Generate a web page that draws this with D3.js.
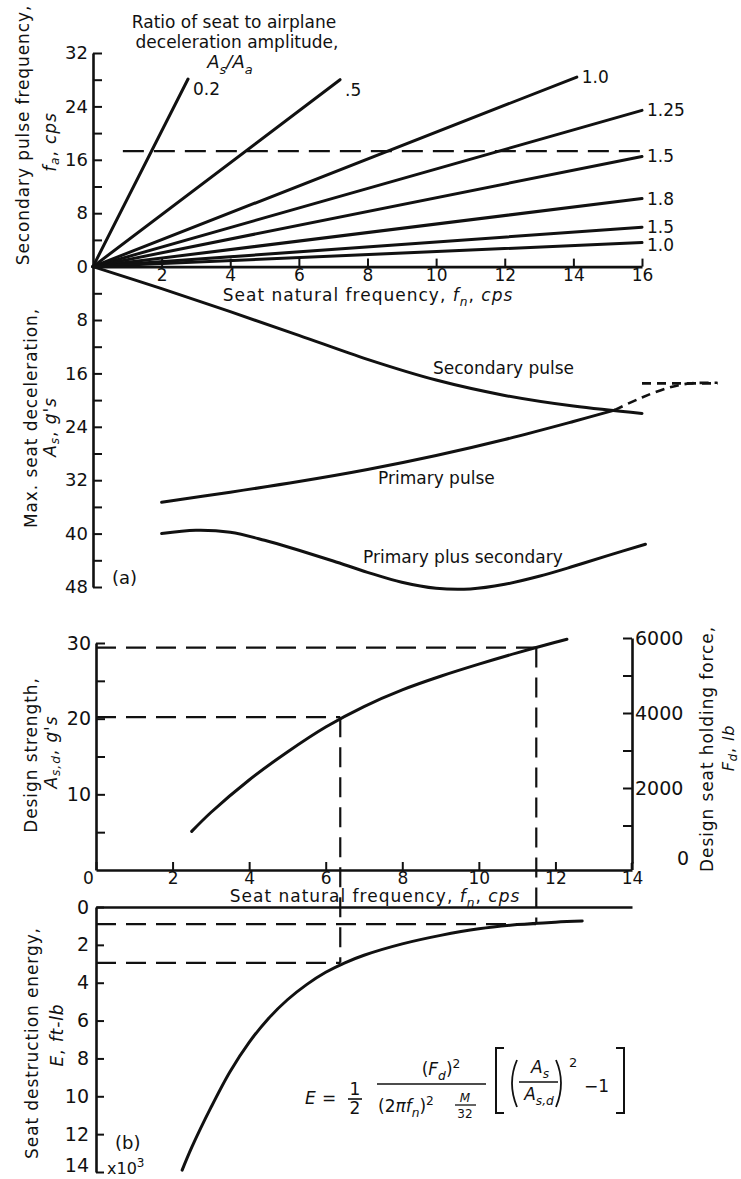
<!DOCTYPE html>
<html>
<head>
<meta charset="utf-8">
<script src="https://cdn.jsdelivr.net/npm/d3@7"></script>
<style>
  body { margin: 0; background: #fff; }
  svg { display: block; font-family: "DejaVu Sans", "Liberation Sans", sans-serif; }
</style>
</head>
<body>
<svg id="chart" width="741" height="1179"></svg>
<script>
// ---------- Panel (a), upper half: secondary pulse frequency vs seat natural frequency ----------
const ratioLabels = ["0.2", ".5", "1.0", "1.25", "1.5", "1.8", "1.5", "1.0"];
const ratioEndFn  = [2.77, 7.2, 14.1, 16, 16, 16, 16, 16];
const ratioEndFa  = [28.1, 28.0, 28.4, 23.4, 16.5, 10.2, 5.9, 3.6];
const faLimit = 17.3;              // horizontal dashed level, cps
const faLimitRange = [0.87, 16];   // fn extent of that dashed line

// ---------- Panel (a), lower half: max seat deceleration vs seat natural frequency ----------
const secFn  = [0, 2, 4, 6, 8, 10, 12, 14, 16];
const secAs  = [0, 3.3, 6.75, 10.3, 13.9, 17.0, 19.3, 20.9, 22.0];
const primFn = [2, 4, 6, 8, 10, 12, 14, 15.2];
const primAs = [35.3, 33.8, 32.2, 30.4, 28.3, 25.9, 23.2, 21.5];
const primExtFn = [15.2, 16, 16.8, 17.4, 18.2];
const primExtAs = [21.5, 19.6, 18.1, 17.5, 17.4];
const plateauFn = [16, 18.2];
const plateauAs = [17.5, 17.5];
const ppsFn = [2, 3, 4, 5, 6, 7, 8, 9, 10, 11, 12, 13, 14, 15, 16.1];
const ppsAs = [40.0, 39.5, 39.8, 41.0, 42.5, 44.1, 45.8, 47.3, 48.2, 48.3, 47.6, 46.4, 44.9, 43.3, 41.6];

// ---------- Panel (b), upper: design strength / holding force ----------
const dsFn = [2.5, 3, 4, 5, 6, 7, 8, 9, 10, 11, 12, 12.3];
const dsAs = [5.1, 7.6, 11.9, 15.6, 18.9, 21.6, 23.8, 25.6, 27.2, 28.7, 30.1, 30.5];

// ---------- Panel (b), lower: seat destruction energy (thousands of ft-lb) ----------
const eFn = [2.25, 2.5, 3, 3.5, 4, 4.5, 5, 5.5, 6, 6.5, 7, 8, 9, 10, 11, 12, 12.7];
const eVal = [13.9, 12.7, 10.6, 8.7, 7.15, 5.9, 4.9, 4.1, 3.45, 2.95, 2.55, 1.95, 1.5, 1.15, 0.93, 0.8, 0.74];

// Design examples read across both lower plots
const exFn  = [6.38, 11.5];
const exAsd = [20.2, 29.4];
const exE   = [2.95, 0.9];

// Tick sets
const ticksA_y  = d3.range(-48, 33, 4);
const ticksA_x  = d3.range(2, 17, 2);
const ticksB_y  = d3.range(5, 31, 5);
const ticksB_x  = d3.range(0, 15, 2);
const ticksF    = d3.range(1000, 6001, 1000);
const ticksE    = d3.range(0, 15, 2);

const ink = "#111";
const svg = d3.select("#chart");

// Scales
const xA = d3.scaleLinear().domain([0, 16]).range([93, 642]);
const yA = d3.scaleLinear().domain([-48, 32]).range([587, 53]);   // fa up, As down (negative)
const xB = d3.scaleLinear().domain([0, 14]).range([96, 632]);
const yB = d3.scaleLinear().domain([0, 30]).range([870, 643]);
const yF = d3.scaleLinear().domain([0, 6000]).range([863, 638]);
const yE = d3.scaleLinear().domain([0, 14]).range([907, 1172]);

const smooth = d3.curveCatmullRom.alpha(0.5);

function styleAxis(g, fs) {
  g.attr("font-family", null).attr("font-size", fs);
  g.select(".domain").attr("stroke", ink).attr("stroke-width", 2.6);
  g.selectAll(".tick line").attr("stroke", ink).attr("stroke-width", 2);
  g.selectAll(".tick text").attr("fill", ink);
}

// rich text helper: segments with italic / subscript / superscript
function rich(parent, segs, size) {
  const t = parent.append("text").attr("font-size", size).attr("fill", ink);
  let shift = 0;
  segs.forEach(s => {
    const target = s.sub ? size * 0.32 : s.sup ? -size * 0.42 : 0;
    const ts = t.append("tspan").text(s.t).attr("dy", target - shift);
    shift = target;
    if (s.it) ts.attr("font-style", "italic");
    if (s.sub || s.sup) ts.attr("font-size", size * 0.72);
  });
  return t;
}
function vtitle(segs, x, y, size) {
  rich(svg, segs, size)
    .attr("text-anchor", "middle")
    .attr("dominant-baseline", "central")
    .attr("letter-spacing", 0.9)
    .attr("transform", `translate(${x},${y}) rotate(-90)`);
}

// ================= Panel (a) =================
const gA = svg.append("g");

svg.append("g").attr("transform", `translate(${xA(0)},0)`)
  .call(d3.axisLeft(yA).tickValues(ticksA_y).tickSize(-9).tickSizeOuter(0).tickPadding(5)
    .tickFormat(d => d % 8 === 0 ? Math.abs(d) : ""))
  .call(g => styleAxis(g, 18));

svg.append("g").attr("transform", `translate(0,${yA(0)})`)
  .call(d3.axisBottom(xA).tickValues(ticksA_x).tickSize(-8).tickSizeOuter(0).tickPadding(2))
  .call(g => styleAxis(g, 17));

// ratio lines from the origin, labelled at their ends (labels kept at least 18px apart)
let prevLabelY = -Infinity;
ratioLabels.forEach((lab, i) => {
  gA.append("line")
    .attr("x1", xA(0)).attr("y1", yA(0))
    .attr("x2", xA(ratioEndFn[i])).attr("y2", yA(ratioEndFa[i]))
    .attr("stroke", ink).attr("stroke-width", 3).attr("stroke-linecap", "round");
  let ly = yA(ratioEndFa[i]) + (ratioEndFn[i] < 10 ? 10 : 0);
  if (ratioEndFn[i] >= 10) {
    if (ly - prevLabelY < 18) ly = prevLabelY + 18;
    prevLabelY = ly;
  }
  gA.append("text")
    .attr("x", xA(ratioEndFn[i]) + 5)
    .attr("y", ly)
    .attr("dominant-baseline", "central")
    .attr("font-size", 17).attr("fill", ink)
    .text(lab);
});

gA.append("line")
  .attr("x1", xA(faLimitRange[0])).attr("x2", xA(faLimitRange[1]))
  .attr("y1", yA(faLimit)).attr("y2", yA(faLimit))
  .attr("stroke", ink).attr("stroke-width", 2.2).attr("stroke-dasharray", "21,10");

// deceleration curves (plotted downward)
const lineA = (fx, fy) => d3.line().x((d, i) => xA(fx[i])).y((d, i) => yA(-fy[i])).curve(smooth)(fx);
[[secFn, secAs], [primFn, primAs], [ppsFn, ppsAs]].forEach(([fx, fy]) => {
  gA.append("path").attr("d", lineA(fx, fy)).attr("fill", "none")
    .attr("stroke", ink).attr("stroke-width", 3).attr("stroke-linecap", "round");
});
[[primExtFn, primExtAs], [plateauFn, plateauAs]].forEach(([fx, fy]) => {
  gA.append("path").attr("d", lineA(fx, fy)).attr("fill", "none")
    .attr("stroke", ink).attr("stroke-width", 2.6).attr("stroke-dasharray", "9,6");
});

gA.append("text").attr("x", 433).attr("y", 374).attr("font-size", 17).attr("fill", ink).text("Secondary pulse");
gA.append("text").attr("x", 378).attr("y", 484).attr("font-size", 17).attr("fill", ink).text("Primary pulse");
gA.append("text").attr("x", 363).attr("y", 563).attr("font-size", 17).attr("fill", ink).text("Primary plus secondary");
gA.append("text").attr("x", 112).attr("y", 584).attr("font-size", 18).attr("fill", ink).text("(a)");

// heading
gA.append("text").attr("x", 234).attr("y", 28).attr("text-anchor", "middle").attr("font-size", 17).attr("fill", ink)
  .text("Ratio of seat to airplane");
gA.append("text").attr("x", 237).attr("y", 48).attr("text-anchor", "middle").attr("font-size", 17).attr("fill", ink)
  .text("deceleration amplitude,");
rich(gA, [{t: "A", it: true}, {t: "s", it: true, sub: true}, {t: "/", it: true}, {t: "A", it: true}, {t: "a", it: true, sub: true}], 18)
  .attr("x", 230).attr("y", 68).attr("text-anchor", "middle");

rich(gA, [{t: "Seat natural frequency,  "}, {t: "f", it: true}, {t: "n", it: true, sub: true}, {t: ",  "}, {t: "cps", it: true}], 17)
  .attr("x", 368).attr("y", 301).attr("text-anchor", "middle").attr("letter-spacing", 1);

vtitle([{t: "Secondary pulse frequency,"}], 23, 135, 17);
vtitle([{t: "f", it: true}, {t: "a", it: true, sub: true}, {t: ",  "}, {t: "cps", it: true}], 50, 142, 17);
vtitle([{t: "Max. seat deceleration,"}], 31, 418, 17);
vtitle([{t: "A", it: true}, {t: "s", it: true, sub: true}, {t: ",  "}, {t: "g's", it: true}], 50, 427, 17);

// ================= Panel (b), design strength =================
const gB = svg.append("g");

svg.append("g").attr("transform", `translate(${xB(0)},0)`)
  .call(d3.axisLeft(yB).tickValues(ticksB_y).tickSize(-9).tickSizeOuter(0).tickPadding(5)
    .tickFormat(d => d % 10 === 0 ? d : ""))
  .call(g => styleAxis(g, 19));

svg.append("g").attr("transform", `translate(0,${yB(0)})`)
  .call(d3.axisBottom(xB).tickValues(ticksB_x).tickSize(-8).tickSizeOuter(0).tickPadding(2))
  .call(g => styleAxis(g, 17))
  .call(g => g.selectAll(".tick").filter(d => d === 0).select("text").attr("dx", -8));

svg.append("g").attr("transform", `translate(${xB(14)},0)`)
  .call(d3.axisRight(yF).tickValues(ticksF).tickSize(-9).tickSizeOuter(0).tickPadding(3)
    .tickFormat(d => d % 2000 === 0 ? d : ""))
  .call(g => styleAxis(g, 19));
gB.append("line").attr("x1", xB(14)).attr("x2", xB(14)).attr("y1", yF(0)).attr("y2", yB(0))
  .attr("stroke", ink).attr("stroke-width", 2.6);
gB.append("text").attr("x", 683).attr("y", yF(0) - 5).attr("text-anchor", "middle")
  .attr("dominant-baseline", "central").attr("font-size", 19).attr("fill", ink).text("0");

gB.append("path")
  .attr("d", d3.line().x((d, i) => xB(dsFn[i])).y((d, i) => yB(dsAs[i])).curve(smooth)(dsFn))
  .attr("fill", "none").attr("stroke", ink).attr("stroke-width", 3).attr("stroke-linecap", "round");

rich(gB, [{t: "Seat natural frequency,  "}, {t: "f", it: true}, {t: "n", it: true, sub: true}, {t: ",  "}, {t: "cps", it: true}], 17)
  .attr("x", 375).attr("y", 902).attr("text-anchor", "middle").attr("letter-spacing", 1);

vtitle([{t: "Design strength,"}], 31, 755, 17);
vtitle([{t: "A", it: true}, {t: "s,d", it: true, sub: true}, {t: ",  "}, {t: "g's", it: true}], 51, 752, 17);
vtitle([{t: "Design seat holding force,"}], 707, 749, 17);
vtitle([{t: "F", it: true}, {t: "d", it: true, sub: true}, {t: ",  "}, {t: "lb", it: true}], 728, 748, 16);

// ================= Panel (b), destruction energy =================
const gC = svg.append("g");

svg.append("g").attr("transform", `translate(${xB(0)},0)`)
  .call(d3.axisLeft(yE).tickValues(ticksE).tickSize(-8).tickSizeOuter(0).tickPadding(7))
  .call(g => styleAxis(g, 19))
  .call(g => g.selectAll(".tick").filter(d => d === 14).select("text").attr("dy", "-0.05em"));
svg.append("g").attr("transform", `translate(0,${yE(0)})`)
  .call(d3.axisTop(xB).tickValues([]).tickSizeOuter(0))
  .call(g => styleAxis(g, 19));

gC.append("path")
  .attr("d", d3.line().x((d, i) => xB(eFn[i])).y((d, i) => yE(eVal[i])).curve(smooth)(eFn))
  .attr("fill", "none").attr("stroke", ink).attr("stroke-width", 3).attr("stroke-linecap", "round");

gC.append("text").attr("x", 107).attr("y", 1174).attr("font-size", 16).attr("fill", ink)
  .text("x10").append("tspan").attr("dy", -7).attr("font-size", 12).text("3");
gC.append("text").attr("x", 115).attr("y", 1149).attr("font-size", 18).attr("fill", ink).text("(b)");

vtitle([{t: "Seat destruction energy,"}], 32, 1043, 17);
vtitle([{t: "E", it: true}, {t: ",  "}, {t: "ft-lb", it: true}], 57, 1035, 17);

// dashed read-off lines linking design strength and destruction energy
const dash = {"stroke": ink, "stroke-width": 2.2, "stroke-dasharray": "20,10", "fill": "none"};
exFn.forEach((fn, i) => {
  const segs = [
    [xB(0), yB(exAsd[i]), xB(fn), yB(exAsd[i])],
    [xB(fn), yB(exAsd[i]), xB(fn), yE(exE[i])],
    [xB(0), yE(exE[i]), xB(fn), yE(exE[i])]
  ];
  segs.forEach(s => {
    const l = gC.append("line").attr("x1", s[0]).attr("y1", s[1]).attr("x2", s[2]).attr("y2", s[3]);
    Object.entries(dash).forEach(([k, v]) => l.attr(k, v));
  });
});

// formula
const gF = svg.append("g").attr("fill", ink).attr("font-size", 17);
const hline = (x1, x2, y, w) => gF.append("line").attr("x1", x1).attr("x2", x2).attr("y1", y).attr("y2", y)
  .attr("stroke", ink).attr("stroke-width", w || 1.6);
gF.append("text").attr("x", 305).attr("y", 1104).attr("font-style", "italic").text("E");
gF.append("text").attr("x", 322).attr("y", 1104).text("=");
gF.append("text").attr("x", 355).attr("y", 1095).attr("text-anchor", "middle").text("1");
hline(348, 362, 1099);
gF.append("text").attr("x", 355).attr("y", 1114).attr("text-anchor", "middle").text("2");

rich(gF, [{t: "("}, {t: "F", it: true}, {t: "d", it: true, sub: true}, {t: ")"}, {t: "2", sup: true}], 17)
  .attr("x", 441).attr("y", 1075).attr("text-anchor", "middle");
hline(377, 486, 1084);
rich(gF, [{t: "(2"}, {t: "π", it: true}, {t: "f", it: true}, {t: "n", it: true, sub: true}, {t: ")"}, {t: "2", sup: true}], 17)
  .attr("x", 378).attr("y", 1112);
gF.append("text").attr("x", 465).attr("y", 1102).attr("text-anchor", "middle").attr("font-size", 12).attr("font-style", "italic").text("M");
hline(455, 476, 1105, 1.3);
gF.append("text").attr("x", 465).attr("y", 1118).attr("text-anchor", "middle").attr("font-size", 12).text("32");

const bracket = (x, dir) => gF.append("path")
  .attr("d", `M${x + 8 * dir},1048 H${x} V1113 H${x + 8 * dir}`)
  .attr("fill", "none").attr("stroke", ink).attr("stroke-width", 2);
bracket(496, 1);
bracket(624, -1);
const paren = (x, dir) => gF.append("path")
  .attr("d", `M${x + 5 * dir},1060 Q${x - 5 * dir},1083 ${x + 5 * dir},1107`)
  .attr("fill", "none").attr("stroke", ink).attr("stroke-width", 1.8);
paren(512, 1);
paren(561, -1);
rich(gF, [{t: "A", it: true}, {t: "s", it: true, sub: true}], 17).attr("x", 540).attr("y", 1073).attr("text-anchor", "middle");
hline(519, 558, 1082);
rich(gF, [{t: "A", it: true}, {t: "s,d", it: true, sub: true}], 17).attr("x", 539).attr("y", 1100).attr("text-anchor", "middle");
gF.append("text").attr("x", 569).attr("y", 1067).attr("font-size", 13).text("2");
gF.append("text").attr("x", 584).attr("y", 1092).text("−1");
</script>
</body>
</html>
